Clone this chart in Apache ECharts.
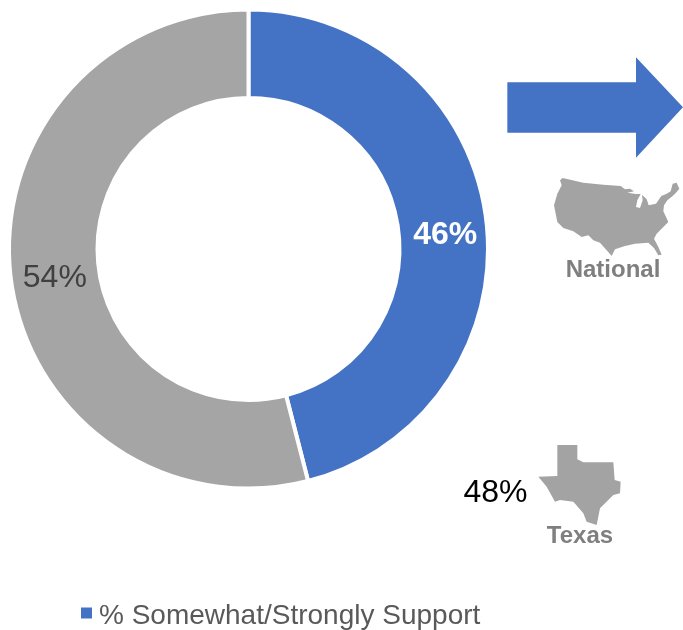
<!DOCTYPE html>
<html><head><meta charset="utf-8">
<style>html,body{margin:0;padding:0;background:#fff}#c{width:683px;height:630px}</style>
<script src="https://cdn.jsdelivr.net/npm/echarts@6/dist/echarts.min.js"></script>
</head><body><div id="c"></div>
<script>
const categories = ['% Somewhat/Strongly Support', '% Other'];
const values = [46, 54];
const colors = ['#4472C4', '#A5A5A5'];
const texasValue = '48%';
const regionLabels = ['National', 'Texas'];
const FONT = '"Liberation Sans", Arial, sans-serif';

const usZoom = [[38,18],[100,32],[160,38],[212,42],[225,52],[240,50],[252,58],[232,62],[258,66],[272,66],[262,85],[258,105],[270,108],[278,85],[276,68],[290,82],[296,100],[318,95],[334,72],[350,65],[362,58],[368,35],[380,32],[388,50],[378,62],[368,72],[352,85],[342,100],[340,118],[355,150],[340,165],[320,185],[312,200],[325,225],[335,248],[325,250],[312,228],[295,212],[255,215],[225,222],[195,232],[185,252],[170,235],[150,212],[130,205],[115,190],[95,195],[70,178],[40,168],[22,150],[12,100],[22,65],[35,40],[30,25]];
const txZoom = [[322,45],[382,45],[382,88],[400,97],[490,97],[494,150],[512,155],[510,190],[490,195],[450,235],[440,285],[410,275],[400,250],[370,215],[330,210],[315,215],[290,170],[265,140],[322,138]];
const arrowZoom = [[22,97],[408,97],[408,22],[549,172],[408,323],[408,248],[22,248]];
const fromZoom = (pts, ox, oy) => pts.map(p => [ox + p[0] / 3, oy + p[1] / 3]);

const chart = echarts.init(document.getElementById('c'), null, {renderer: 'canvas'});
chart.setOption({
  animation: false,
  legend: {
    data: [categories[0]], left: 76, top: 597, icon: 'rect',
    itemWidth: 11, itemHeight: 11, itemGap: 8,
    itemStyle: {borderWidth: 0},
    formatter: '{a|{name}}',
    textStyle: {rich: {a: {fontFamily: FONT, fontSize: 28, color: '#595959', padding: [6, 0, 0, 2]}}}
  },
  series: [{
    type: 'pie', center: [248.5, 249], radius: [151, 239.5], startAngle: 90, clockwise: true,
    itemStyle: {borderColor: '#fff', borderWidth: 4},
    labelLine: {show: false},
    data: categories.map((n, i) => ({
      name: n, value: values[i],
      itemStyle: {color: colors[i]},
      label: i === 0
        ? {show: true, position: 'inside', formatter: '{d}%', offset: [0, 11], fontFamily: FONT, fontSize: 32, fontWeight: 'bold', color: '#fff'}
        : {show: true, position: 'inside', formatter: '{d}%', offset: [3, 4], fontFamily: FONT, fontSize: 32, color: '#404040'}
    }))
  }],
  graphic: [
    {type: 'polygon', shape: {points: fromZoom(arrowZoom, 500, 50)}, style: {fill: colors[0]}},
    {type: 'polygon', shape: {points: fromZoom(usZoom, 550, 172)}, style: {fill: '#A3A3A3'}},
    {type: 'polygon', shape: {points: fromZoom(txZoom, 450, 430)}, style: {fill: '#A3A3A3'}},
    {type: 'text', x: 613, y: 270.5, style: {text: regionLabels[0], fontFamily: FONT, fontSize: 24, fontWeight: 'bold', fill: '#7F7F7F', textAlign: 'center', textVerticalAlign: 'middle'}},
    {type: 'text', x: 580, y: 536.5, style: {text: regionLabels[1], fontFamily: FONT, fontSize: 24, fontWeight: 'bold', fill: '#7F7F7F', textAlign: 'center', textVerticalAlign: 'middle'}},
    {type: 'text', x: 495.5, y: 493.5, style: {text: texasValue, fontFamily: FONT, fontSize: 32, fill: '#000', textAlign: 'center', textVerticalAlign: 'middle'}}
  ]
});
</script></body></html>
